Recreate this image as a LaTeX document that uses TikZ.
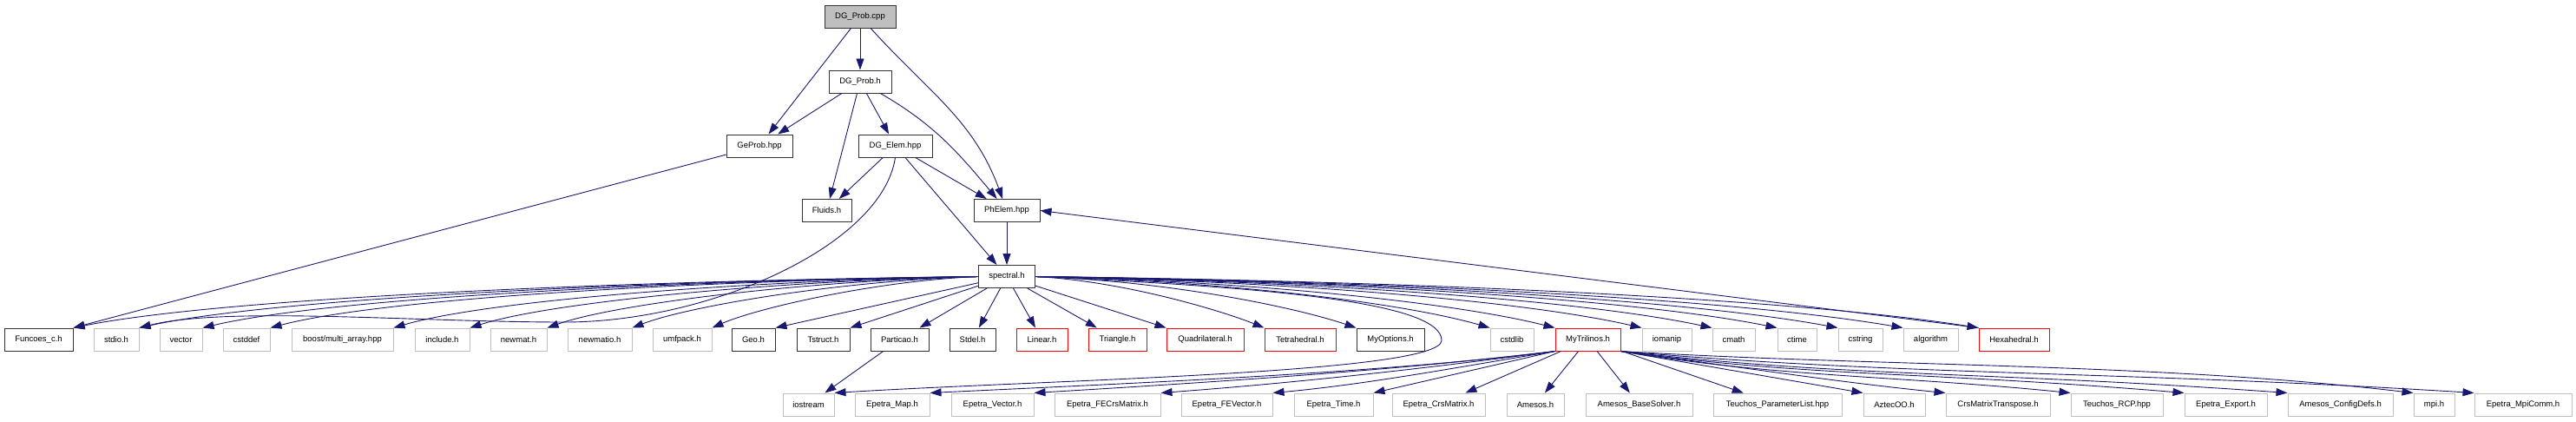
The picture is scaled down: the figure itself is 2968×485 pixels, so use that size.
\documentclass[tikz,border=0pt]{standalone}
\usepackage{fontspec}
\setmainfont{Liberation Sans}
\usetikzlibrary{arrows.meta,positioning}
\definecolor{edgeblue}{HTML}{191970}
\definecolor{sysgray}{HTML}{BFBFBF}
\definecolor{rootfill}{HTML}{BFBFBF}
\definecolor{missred}{HTML}{FF0000}
\definecolor{docline}{HTML}{333333}
\tikzset{
  filebox/.style={
    fill=white,
    minimum height=26pt,
    inner xsep=2pt,
    inner ysep=0pt,
    font=\fontsize{9.5}{11}\selectfont,
    text=black
  },
  docnode/.style={filebox, draw=docline, line width=1pt},
  rootnode/.style={docnode, fill=rootfill},
  sysnode/.style={filebox, draw=sysgray, line width=1pt},
  missnode/.style={filebox, draw=missred, line width=1pt},
  inc/.style={-{Triangle[length=13pt,width=9pt]}, line width=0.9pt, draw=edgeblue}
}

\begin{document}
\begin{tikzpicture}[x=1pt,y=1pt]
      \useasboundingbox[fill=white] (0,0) rectangle (2968,-485);
      % upper part
      \node[rootnode,minimum width=82pt] (dgcpp) at (991,-19) {DG\_Prob.cpp};
      \node[docnode,minimum width=72pt,below=48pt of dgcpp] (dgh) {DG\_Prob.h};
      \node[docnode,minimum width=76pt] (geprob) at (875,-168) {GeProb.hpp};
      \node[docnode,minimum width=85pt] (dgelem) at (1031.5,-168) {DG\_Elem.hpp};
      \node[docnode,minimum width=57pt] (fluids) at (952.5,-242.5) {Fluids.h};
      \node[docnode,minimum width=76pt] (phelem) at (1160,-242.5) {PhElem.hpp};
      \node[docnode,minimum width=65pt,below=49pt of phelem] (spectral) {spectral.h};
      % headers of spectral.h
      \node[docnode,minimum width=79pt] (funcoes) at (44.5,-391) {Funcoes\_c.h};
      \node[sysnode,minimum width=52pt] (stdio) at (134,-391) {stdio.h};
      \node[sysnode,minimum width=49pt] (vector) at (208.5,-391) {vector};
      \node[sysnode,minimum width=54pt] (cstddef) at (284,-391) {cstddef};
      \node[sysnode,minimum width=117pt] (boost) at (394.5,-391) {boost/multi\_array.hpp};
      \node[sysnode,minimum width=63pt] (include) at (509.5,-391) {include.h};
      \node[sysnode,minimum width=65pt] (newmat) at (597.5,-391) {newmat.h};
      \node[sysnode,minimum width=74pt] (newmatio) at (691,-391) {newmatio.h};
      \node[sysnode,minimum width=68pt] (umfpack) at (786,-391) {umfpack.h};
      \node[docnode,minimum width=50pt] (geo) at (868,-391) {Geo.h};
      \node[docnode,minimum width=61pt] (tstruct) at (948.5,-391) {Tstruct.h};
      \node[docnode,minimum width=67pt] (particao) at (1036.5,-391) {Particao.h};
      \node[docnode,minimum width=53pt] (stdel) at (1120.5,-391) {Stdel.h};
      \node[missnode,minimum width=59pt] (linear) at (1200.5,-391) {Linear.h};
      \node[missnode,minimum width=67pt] (triangle) at (1287.5,-391) {Triangle.h};
      \node[missnode,minimum width=89pt] (quad) at (1388.5,-391) {Quadrilateral.h};
      \node[missnode,minimum width=82pt] (tetra) at (1498,-391) {Tetrahedral.h};
      \node[docnode,minimum width=78pt] (myopt) at (1602,-391) {MyOptions.h};
      \node[sysnode,minimum width=50pt] (cstdlib) at (1742,-391) {cstdlib};
      \node[missnode,minimum width=75pt] (mytril) at (1829.5,-391) {MyTrilinos.h};
      \node[sysnode,minimum width=57pt] (iomanip) at (1920.5,-391) {iomanip};
      \node[sysnode,minimum width=49pt] (cmath) at (1997.5,-391) {cmath};
      \node[sysnode,minimum width=45pt] (ctime) at (2070.5,-391) {ctime};
      \node[sysnode,minimum width=51pt] (cstring) at (2143.5,-391) {cstring};
      \node[sysnode,minimum width=63pt] (algo) at (2224.5,-391) {algorithm};
      \node[missnode,minimum width=81pt] (hexa) at (2320.5,-391) {Hexahedral.h};
      % bottom row
      \node[sysnode,minimum width=59pt] (iostream) at (931.5,-466) {iostream};
      \node[sysnode,minimum width=86pt] (emap) at (1028,-466) {Epetra\_Map.h};
      \node[sysnode,minimum width=95pt] (evec) at (1143.5,-466) {Epetra\_Vector.h};
      \node[sysnode,minimum width=122pt] (efecrs) at (1276,-466) {Epetra\_FECrsMatrix.h};
      \node[sysnode,minimum width=105pt] (efevec) at (1413.5,-466) {Epetra\_FEVector.h};
      \node[sysnode,minimum width=91pt] (etime) at (1536.5,-466) {Epetra\_Time.h};
      \node[sysnode,minimum width=107pt] (ecrs) at (1657.5,-466) {Epetra\_CrsMatrix.h};
      \node[sysnode,minimum width=66pt] (amesos) at (1769,-466) {Amesos.h};
      \node[sysnode,minimum width=123pt] (amesosbs) at (1888.5,-466) {Amesos\_BaseSolver.h};
      \node[sysnode,minimum width=148pt] (tparam) at (2048,-466) {Teuchos\_ParameterList.hpp};
      \node[sysnode,minimum width=71pt] (aztec) at (2182.5,-466) {AztecOO.h};
      \node[sysnode,minimum width=120pt] (crst) at (2302,-466) {CrsMatrixTranspose.h};
      \node[sysnode,minimum width=106pt] (trcp) at (2439,-466) {Teuchos\_RCP.hpp};
      \node[sysnode,minimum width=95pt] (eexport) at (2564.5,-466) {Epetra\_Export.h};
      \node[sysnode,minimum width=121pt] (aconf) at (2696.5,-466) {Amesos\_ConfigDefs.h};
      \node[sysnode,minimum width=47pt] (mpi) at (2804.5,-466) {mpi.h};
      \node[sysnode,minimum width=112pt] (empicomm) at (2907,-466) {Epetra\_MpiComm.h};
      \coordinate (sdip) at (650,-371);
      \coordinate (loopturn) at (1661,-392);
      % edges, upper part
      \draw[inc] (dgcpp) -- (dgh);
      \draw[inc] (dgcpp) -- (geprob);
      \draw[inc] (dgcpp) to[out=-48,in=110] (phelem);
      \draw[inc] (dgh) -- (geprob);
      \draw[inc] (dgh) -- (fluids);
      \draw[inc] (dgh) -- (dgelem);
      \draw[inc] (dgh) to[out=-30,in=130] (phelem);
      \draw[inc] (geprob) -- (funcoes.north east);
      \draw[inc] (dgelem) -- (fluids);
      \draw[inc] (dgelem) -- (phelem);
      \draw[inc] (dgelem) -- (spectral);
      \draw[inc] (dgelem.south) .. controls +(-15,-100) and +(170,0) .. (sdip)
        .. controls +(-170,0) and +(100,25) .. (stdio.north east);
      \draw[inc] (phelem) -- (spectral);
      \draw[inc] (hexa.north west) -- (phelem.east);
      % spectral.h, to the left
      \draw[inc] (spectral.west) .. controls +(-420,-5) and +(170,34) .. (funcoes.north east);
      \draw[inc] (spectral.west) .. controls +(-390,-5) and +(155,34) .. (stdio.north east);
      \draw[inc] (spectral.west) .. controls +(-360,-5) and +(145,34) .. (vector.north east);
      \draw[inc] (spectral.west) .. controls +(-330,-5) and +(130,34) .. (cstddef.north east);
      \draw[inc] (spectral.west) .. controls +(-270,-5) and +(110,32) .. (boost.north east);
      \draw[inc] (spectral.west) .. controls +(-235,-5) and +(95,30) .. (include.north east);
      \draw[inc] (spectral.west) .. controls +(-200,-5) and +(80,28) .. (newmat.north east);
      \draw[inc] (spectral.west) .. controls +(-160,-5) and +(65,25) .. (newmatio.north east);
      \draw[inc] (spectral.west) .. controls +(-120,-5) and +(50,22) .. (umfpack.north east);
      \draw[inc] (spectral) -- (geo.north east);
      \draw[inc] (spectral) -- (tstruct.north east);
      \draw[inc] (spectral) -- (particao);
      \draw[inc] (spectral) -- (stdel);
      \draw[inc] (spectral) -- (linear);
      \draw[inc] (spectral) -- (triangle);
      % spectral.h, to the right
      \draw[inc] (spectral) -- (quad.north west);
      \draw[inc] (spectral.east) .. controls +(100,-5) and +(-50,20) .. (tetra.north west);
      \draw[inc] (spectral.east) .. controls +(150,-5) and +(-75,25) .. (myopt.north west);
      \draw[inc] (spectral.east) .. controls +(210,-5) and +(-105,30) .. (cstdlib.north west);
      \draw[inc] (spectral.east) .. controls +(240,-5) and +(-120,30) .. (mytril.north west);
      \draw[inc] (spectral.east) .. controls +(280,-5) and +(-140,32) .. (iomanip.north west);
      \draw[inc] (spectral.east) .. controls +(310,-5) and +(-155,33) .. (cmath.north west);
      \draw[inc] (spectral.east) .. controls +(340,-5) and +(-170,34) .. (ctime.north west);
      \draw[inc] (spectral.east) .. controls +(370,-5) and +(-185,34) .. (cstring.north west);
      \draw[inc] (spectral.east) .. controls +(400,-5) and +(-200,34) .. (algo.north west);
      \draw[inc] (spectral.east) .. controls +(435,-5) and +(-215,34) .. (hexa.north west);
      \draw[inc] (spectral.east) .. controls +(260,-12) and +(0,45) .. (loopturn)
        .. controls +(0,-38) and +(240,15) .. (iostream.north east);
      \draw[inc] (particao) -- (iostream);
      % MyTrilinos.h
      \draw[inc] (mytril.south west) .. controls +(-200,-25) and +(250,12) .. (emap.north east);
      \draw[inc] (mytril.south west) .. controls +(-180,-22) and +(200,12) .. (evec.north east);
      \draw[inc] (mytril.south west) .. controls +(-150,-20) and +(160,12) .. (efecrs.north east);
      \draw[inc] (mytril.south west) .. controls +(-110,-18) and +(110,10) .. (efevec.north east);
      \draw[inc] (mytril.south west) -- (etime.north east);
      \draw[inc] (mytril) -- (ecrs);
      \draw[inc] (mytril) -- (amesos);
      \draw[inc] (mytril) -- (amesosbs);
      \draw[inc] (mytril) -- (tparam);
      \draw[inc] (mytril.south east) -- (aztec.north west);
      \draw[inc] (mytril.south east) .. controls +(150,-20) and +(-120,12) .. (crst.north west);
      \draw[inc] (mytril.south east) .. controls +(180,-30) and +(-200,20) .. (trcp.north west);
      \draw[inc] (mytril.south east) .. controls +(220,-30) and +(-300,25) .. (eexport.north west);
      \draw[inc] (mytril.south east) .. controls +(260,-30) and +(-350,25) .. (aconf.north west);
      \draw[inc] (mytril.south east) .. controls +(300,-18) and +(-300,35) .. (mpi.north west);
      \draw[inc] (mytril.south east) .. controls +(320,-28) and +(-400,25) .. (empicomm.north west);
    \end{tikzpicture}
\end{document}
